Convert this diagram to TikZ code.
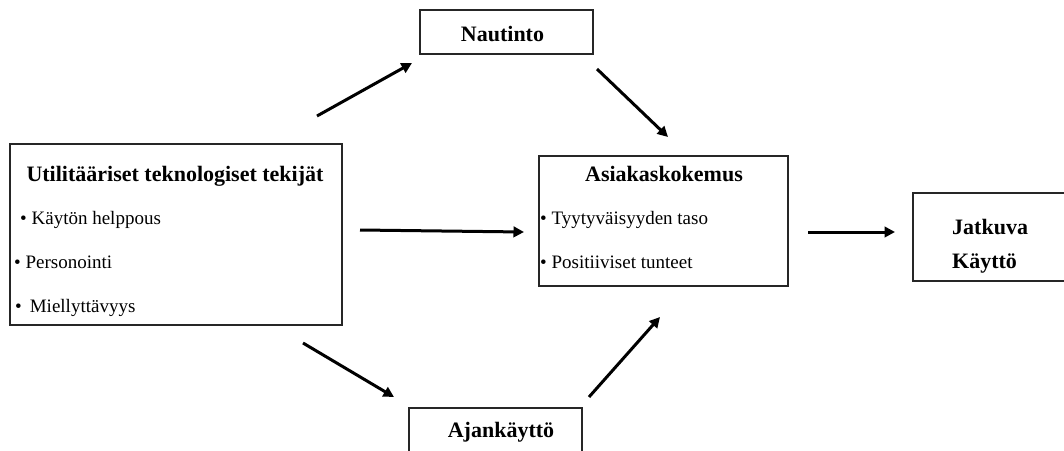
\documentclass[tikz,border=0pt]{standalone}
\usepackage{fontspec}
\setmainfont{Liberation Serif}
\usetikzlibrary{arrows.meta}

\begin{document}
\begin{tikzpicture}[x=1pt,y=-1pt,
  box/.style={draw=black!85, line width=1.5pt, minimum width=#1, inner sep=0pt, outer sep=0pt},
  head/.style={font=\fontsize{22}{24}\selectfont\bfseries, inner sep=0pt, anchor=base},
  item/.style={font=\fontsize{19}{21}\selectfont, inner sep=0pt, anchor=base west},
  arr/.style={line width=3pt, -{Triangle[length=10.5pt,width=10.5pt]}}
]
\path[use as bounding box] (0,0) rectangle (1064,450);
\clip (0,0) rectangle (1064,450);

% boxes
\node[box=332pt, minimum height=181pt] (util) at (176,234.5) {};
\node[box=249pt, minimum height=130pt] (asia) at (663.5,221) {};
\node[box=173pt, minimum height=44pt]  (naut) at (506.5,32) {};
\node[box=173pt, minimum height=62pt]  (ajan) at (495.5,439) {};
\node[box=167pt, minimum height=88pt]  (jatk) at (996.5,237) {};

% texts of the left box
\node[head] (utilT) at (175,181) {Utilitääriset teknologiset tekijät};
\node[item] (util1) at (20,224) {• Käytön helppous};
\node[item] (util2) at (14,268) {• Personointi};
\node[item] (util3) at (15,312) {•\hspace{8pt}Miellyttävyys};

% texts of the middle box
\node[head] (asiaT) at (664,181) {Asiakaskokemus};
\node[item] (asia1) at (540,224) {• Tyytyväisyyden taso};
\node[item] (asia2) at (540,268) {• Positiiviset tunteet};

% small boxes
\node[head] (nautT) at (502.5,41) {Nautinto};
\node[head] (ajanT) at (501,437) {Ajankäyttö};
\node[head, anchor=base west] (jatk1) at (952,234) {Jatkuva};
\node[head, anchor=base west] (jatk2) at (952,268) {Käyttö};

% connectors
\draw[arr] ([shift={(-25,-28)}]util.north east) -- ([shift={(-8,9)}]naut.south west);
\draw[arr] ([shift={(4,15)}]naut.south east) -- ([shift={(4.5,-19)}]asia.north);
\draw[arr] ([shift={(18,-4.5)}]util.east) -- ([shift={(-15,11)}]asia.west);
\draw[arr] ([shift={(-39,18)}]util.south east) -- ([shift={(-15,-11)}]ajan.north west);
\draw[arr] ([shift={(7,-11)}]ajan.north east) -- ([shift={(-3.5,31)}]asia.south);
\draw[arr] ([shift={(20,11)}]asia.east) -- ([shift={(-18,-5)}]jatk.west);
\end{tikzpicture}
\end{document}
